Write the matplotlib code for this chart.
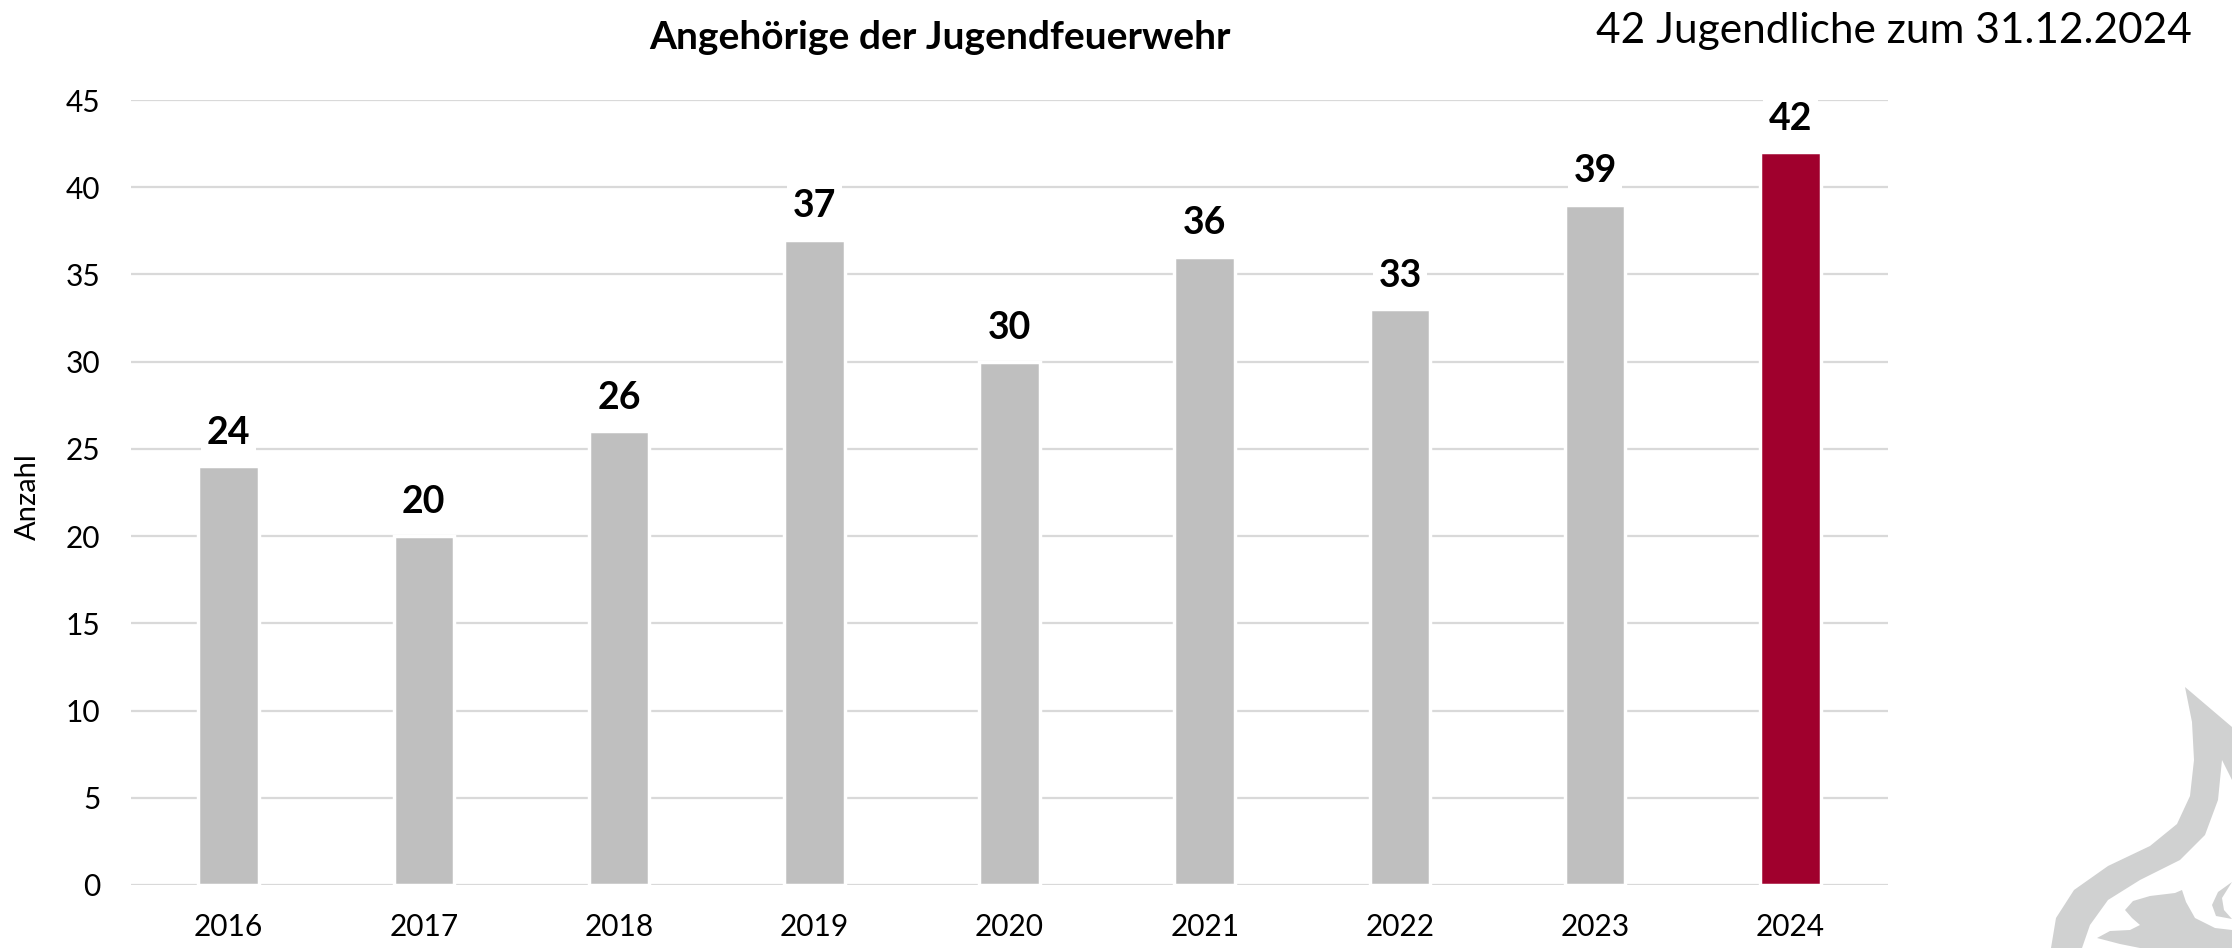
import matplotlib
matplotlib.use("Agg")
import matplotlib.pyplot as plt
from matplotlib.patches import Polygon

years = ["2016", "2017", "2018", "2019", "2020", "2021", "2022", "2023", "2024"]
members = [24, 20, 26, 37, 30, 36, 33, 39, 42]
highlight_year = "2024"

GREY = "#BFBFBF"
RED = "#A0002D"
GRID = "#D9D9D9"
LOGO = "#D0D1D1"

plt.rcParams["font.family"] = ["Lato", "DejaVu Sans"]

W, H = 2232, 948
fig = plt.figure(figsize=(W / 100, H / 100), dpi=100)


def fc(x, y):
    # pixel coords (y down) -> figure fraction
    return (x / W, 1 - y / H)


# flame logo in the corner (decoration)
flame = [(2185, 687), (2232, 727), (2232, 780), (2222, 760), (2218, 800),
         (2205, 835), (2180, 860), (2140, 880), (2108, 900), (2090, 925),
         (2082, 948), (2051, 948), (2056, 918), (2074, 890), (2108, 866),
         (2150, 846), (2177, 824), (2190, 796), (2194, 760), (2192, 722)]
fig.patches.append(Polygon([fc(*p) for p in flame], closed=True, transform=fig.transFigure,
                           facecolor=LOGO, edgecolor="none", zorder=0))
lion = [(2133, 901), (2150, 896), (2175, 893), (2182, 890), (2186, 902),
        (2195, 918), (2215, 928), (2232, 930), (2232, 948), (2140, 948),
        (2120, 944), (2097, 938), (2110, 931), (2130, 930), (2140, 925),
        (2132, 918), (2125, 910)]
fig.patches.append(Polygon([fc(*p) for p in lion], closed=True, transform=fig.transFigure,
                           facecolor=LOGO, edgecolor="none", zorder=0))
curl = [(2232, 882), (2218, 892), (2212, 905), (2216, 916), (2232, 919),
        (2224, 910), (2222, 898)]
fig.patches.append(Polygon([fc(*p) for p in curl], closed=True, transform=fig.transFigure,
                           facecolor=LOGO, edgecolor="none", zorder=0))

ax = fig.add_axes([0.0587, 0.0665, 0.7872, 0.828])
ax.set_facecolor("none")

colors = [RED if y == highlight_year else GREY for y in years]
bars = ax.bar(years, members, width=0.31, color=colors, edgecolor="white",
              linewidth=2.5, zorder=3)

for rect, v in zip(bars, members):
    ax.annotate(str(v), (rect.get_x() + rect.get_width() / 2, v),
                xytext=(0, 12), textcoords="offset points",
                ha="center", va="bottom", fontsize=27, fontweight="bold",
                bbox=dict(boxstyle="square,pad=0.15", fc="white", ec="none"),
                zorder=4)

ax.set_xlim(-0.5, len(years) - 0.5)
ax.set_ylim(0, 45)
ax.set_yticks(range(0, 46, 5))
ax.yaxis.grid(True, color=GRID, linewidth=1.6, zorder=0)
ax.set_axisbelow(True)
for s in ax.spines.values():
    s.set_visible(False)
ax.tick_params(axis="both", length=0, labelsize=21.5, colors="black")
ax.tick_params(axis="y", pad=22)
ax.tick_params(axis="x", pad=20)

fig.text(0.0125, 0.43, "Anzahl", rotation=90, ha="center", va="bottom", fontsize=21)
fig.text(0.421, 0.96, "Angehörige der Jugendfeuerwehr", ha="center", va="center",
         fontsize=28, fontweight="bold")
fig.text(0.982, 0.967, "42 Jugendliche zum 31.12.2024", ha="right", va="center", fontsize=30.5)

fig.savefig("out.png", dpi=100)
